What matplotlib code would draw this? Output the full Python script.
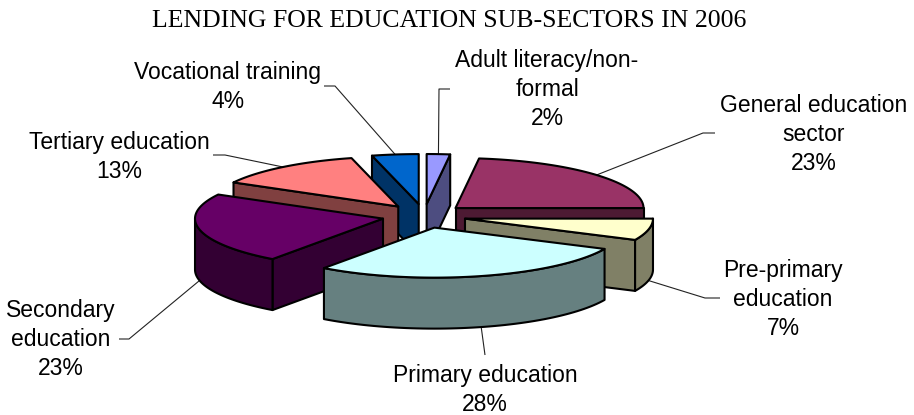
import numpy as np
import matplotlib
matplotlib.use("Agg")
import matplotlib.pyplot as plt
from matplotlib.colors import to_rgb
from matplotlib.patches import Polygon

# clockwise from 12 o'clock
categories = ["Adult literacy/non-\nformal", "General education\nsector", "Pre-primary\neducation",
              "Primary education", "Secondary\neducation", "Tertiary education", "Vocational training"]
values = [2, 23, 7, 28, 23, 13, 4]
colors = ["#9999FF", "#993366", "#FFFFCC", "#CCFFFF", "#660066", "#FF8080", "#0066CC"]

# painter's order, back to front
draw_order = [6, 0, 5, 1, 4, 2, 3]

# label centre x and first baseline y, leader elbow, in pixels
label_pos = [(547, 67), (814, 112), (783, 277), (485, 382), (61, 317), (119, 149), (228, 79)]
elbows = [[(439, 89), (450, 89)], [(703, 133), (715, 133)], [(705, 298), (720, 298)],
          [(485, 355)], [(129, 339), (119, 339)], [(225, 155), (213, 155)], [(335, 86), (324, 86)]]

CX, CY = 424, 216
RX, RY = 188, 50
DEPTH = 51
EX, EY = 42, 12
LINE_H = 29

fig = plt.figure(figsize=(9.14, 4.15), dpi=100)
ax = fig.add_axes([0, 0, 1, 1])
ax.set_xlim(0, 914)
ax.set_ylim(415, 0)
ax.axis("off")


def rim(th, apex):
    th = np.radians(th)
    return np.column_stack([apex[0] + RX * np.sin(th), apex[1] - RY * np.cos(th)])


def wall(top):
    # extrude a top edge downward
    return np.vstack([top, top[::-1] + [0, DEPTH]])


def draw_poly(pts, color, z):
    ax.add_patch(Polygon(pts, closed=True, facecolor=color, edgecolor="black",
                         linewidth=1.5, joinstyle="round", zorder=z))


edges = np.cumsum([0] + values) * 3.6
z = 2
for i in draw_order:
    t1, t2 = edges[i], edges[i + 1]
    mid = np.radians((t1 + t2) / 2)
    apex = (CX + EX * np.sin(mid), CY - EY * np.cos(mid))
    top_col = to_rgb(colors[i])
    side_col = tuple(c / 2 for c in top_col)

    # radial cut faces
    if np.sin(np.radians(t1)) < -1e-6:
        draw_poly(wall(np.vstack([[apex], rim(np.array([t1]), apex)])), side_col, z)
    if np.sin(np.radians(t2)) > 1e-6:
        draw_poly(wall(np.vstack([[apex], rim(np.array([t2]), apex)])), side_col, z)

    # outer wall, only the part facing the viewer
    a, b = max(t1, 90), min(t2, 270)
    if b > a:
        draw_poly(wall(rim(np.linspace(a, b, 60), apex)), side_col, z)

    th = np.linspace(t1, t2, 80)
    draw_poly(np.vstack([[apex], rim(th, apex)]), top_col, z)
    z += 1

    # leader line starts from the middle of the arc
    start = rim(np.array([np.degrees(mid)]), apex)[0]
    if 90 < np.degrees(mid) < 270:
        start = start + [0, DEPTH]
    path = np.vstack([start] + [np.array(p, dtype=float) for p in elbows[i]])
    ax.plot(path[:, 0], path[:, 1], color="#222222", lw=0.8, zorder=1, solid_capstyle="butt")

# labels
for name, val, (x, y) in zip(categories, values, label_pos):
    lines = name.split("\n") + [f"{val}%"]
    for k, line in enumerate(lines):
        ax.text(x, y + k * LINE_H, line, ha="center", va="baseline", fontsize=16.5,
                family="Liberation Sans", color="black")

ax.text(449, 27, "LENDING FOR EDUCATION SUB-SECTORS IN 2006", ha="center", va="baseline",
        fontsize=18.5, family="Liberation Serif", color="black")

fig.savefig("out.png", dpi=100)
